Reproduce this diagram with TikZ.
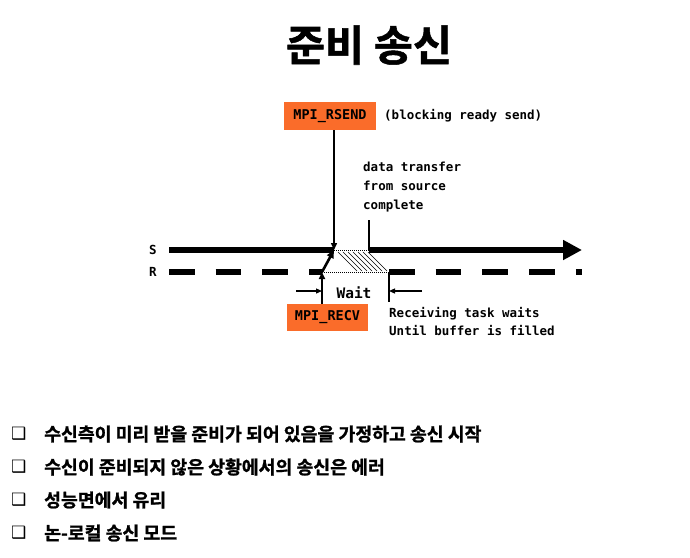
\documentclass[tikz,border=0pt]{standalone}
\usepackage{fontspec}
\newfontfamily\kor{Noto Sans CJK KR}[BoldFont={Noto Sans CJK KR Bold}, BoldFeatures={FakeBold=1.2}]
\newfontfamily\mono{DejaVu Sans Mono}
\newfontfamily\sym{DejaVu Sans}
\usetikzlibrary{arrows.meta}
\definecolor{mpiorange}{RGB}{250,108,42}
\tikzset{
  mpibox/.style={fill=mpiorange, inner sep=0pt, minimum width=#1, minimum height=28pt,
    font=\mono\bfseries\fontsize{13.5}{16}\selectfont},
  note/.style={align=left, inner sep=0pt, font=\mono\bfseries\fontsize{12.5}{18.7}\selectfont},
  bullettext/.style={anchor=west, inner sep=0pt, font=\kor\bfseries\fontsize{18.3}{20}\selectfont},
  thinarrow/.style={line width=1.4pt, -{Triangle[length=7pt,width=6pt]}},
}
\begin{document}
\begin{tikzpicture}[x=1pt,y=-1pt]
\useasboundingbox (0,0) rectangle (690,557);

\node (title) at (369,45) {\kor\bfseries\fontsize{42.5}{44}\selectfont 준비 송신};

\node [mpibox=92pt] (rsend) at (330,116) {MPI\_RSEND};
\node [note, anchor=west] (rsendnote) at (384,116) {(blocking ready send)};
\node [mpibox=81pt, minimum height=27pt] (recv) at (327.5,317.5) {MPI\_RECV};

\coordinate (s0) at (169,250);
\coordinate (s1) at (334,250);
\coordinate (s2) at (369,250);
\coordinate (s3) at (582,250);
\coordinate (r0) at (169,272);
\coordinate (r1) at (322,272);
\coordinate (r2) at (389,272);
\coordinate (r3) at (582,272);
\coordinate (done) at (369,220);
\coordinate (fill) at (389,302);

\node [note, anchor=center] (slabel) at (153,250) {S};
\node [note, anchor=center] (rlabel) at (153,272) {R};

\draw [line width=6.7pt] (s0) -- (s1);
\draw [line width=6.7pt, -{Triangle[length=19pt,width=19pt]}] (s2) -- (s3);
\draw [line width=6.7pt, dash pattern=on 25.7pt off 21pt] (r0) -- (r1);
\draw [line width=6.7pt, dash pattern=on 25.7pt off 21pt] (r2) -- (r3);
\draw [line width=1pt, densely dotted] (s1) -- (s2);
\draw [line width=1pt, densely dotted] (r1) -- (r2);
\foreach \i in {0,...,6}
  \draw [line width=0.45pt] (338+5*\i,252) -- (357+5*\i,271);

\draw [thinarrow] (s1 |- rsend.south) -- (s1);
\draw [line width=2.6pt, -{Triangle[length=8pt,width=7pt]}] (r1) -- (s1);
\draw [thinarrow, line width=2pt] (r1 |- recv.north) -- (r1);
\draw [line width=1.8pt] (done) -- (s2);
\draw [line width=1.6pt] (r2) -- (fill);

\node [note, anchor=north west] (transfer) at (363,162) {data transfer\\from source\\complete};

\node [inner sep=0pt, font=\mono\bfseries\fontsize{14.5}{16}\selectfont] (wait) at (354,293) {Wait};
\coordinate (wl) at (296,291);
\coordinate (wr) at (422,291);
\draw [line width=1.2pt, -{Triangle[length=6pt,width=5pt]}] (wl) -- (wl -| r1);
\draw [line width=1.2pt, -{Triangle[length=6pt,width=5pt]}] (wr) -- (wr -| r2);

\node [note, anchor=north west, font=\mono\bfseries\fontsize{12.5}{18}\selectfont] (waits) at (389,307) {Receiving task waits\\Until buffer is filled};

\foreach \y/\t [count=\n] in {434/수신측이 미리 받을 준비가 되어 있음을 가정하고 송신 시작,
                              467/수신이 준비되지 않은 상황에서의 송신은 에러,
                              500/성능면에서 유리,
                              533/논-로컬 송신 모드} {
  \node [anchor=west, inner sep=0pt, font=\sym\fontsize{17}{18}\selectfont] (box\n) at (11,\y) {❑};
  \node [bullettext] (item\n) at (44,\y) {\t};
}
\end{tikzpicture}
\end{document}
